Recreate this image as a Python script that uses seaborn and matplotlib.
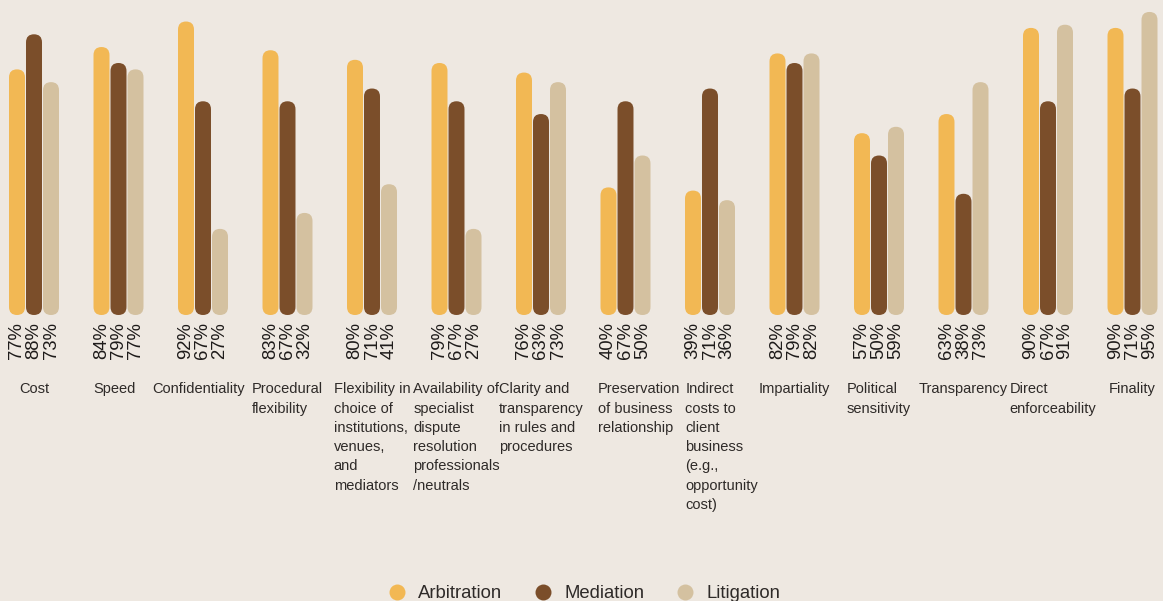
import matplotlib
matplotlib.use("Agg")
import matplotlib.pyplot as plt
import matplotlib.transforms as mtransforms
from matplotlib.patches import FancyBboxPatch
from matplotlib.lines import Line2D
import seaborn as sns
import pandas as pd

# Survey categories (line breaks as they are set under each group)
categories = [
    "Cost",
    "Speed",
    "Confidentiality",
    "Procedural\nflexibility",
    "Flexibility in\nchoice of\ninstitutions,\nvenues,\nand\nmediators",
    "Availability of\nspecialist\ndispute\nresolution\nprofessionals\n/neutrals",
    "Clarity and\ntransparency\nin rules and\nprocedures",
    "Preservation\nof business\nrelationship",
    "Indirect\ncosts to\nclient\nbusiness\n(e.g.,\nopportunity\ncost)",
    "Impartiality",
    "Political\nsensitivity",
    "Transparency",
    "Direct\nenforceability",
    "Finality",
]

series_names = ["Arbitration", "Mediation", "Litigation"]
arbitration = [77, 84, 92, 83, 80, 79, 76, 40, 39, 82, 57, 63, 90, 90]
mediation = [88, 79, 67, 67, 71, 67, 63, 67, 71, 79, 50, 38, 67, 71]
litigation = [73, 77, 27, 32, 41, 27, 73, 50, 36, 82, 59, 73, 91, 95]

colors = {"Arbitration": "#F2B854", "Mediation": "#7B4E2A", "Litigation": "#D4C1A0"}
bg = "#EEE8E1"
text_color = "#2E2A28"

rows = []
for name, vals in zip(series_names, [arbitration, mediation, litigation]):
    for cat, v in zip(categories, vals):
        rows.append({"category": cat, "series": name, "value": v})
df = pd.DataFrame(rows)

sns.set_theme(style="white")
plt.rcParams["font.family"] = ["Liberation Sans", "DejaVu Sans"]

W, H = 1163, 601
fig = plt.figure(figsize=(W / 100, H / 100), dpi=100, facecolor=bg)

base_px = 315        # pixel row of the bar baseline
group_px = 84.5      # spacing between groups
first_px = 34        # centre of the first group
px_per_pct = 3.19

ax = fig.add_axes([0, (H - base_px) / H, 1, base_px / H])
ax.set_facecolor(bg)

sns.barplot(
    data=df, x="category", y="value", hue="series",
    order=categories, hue_order=series_names,
    palette=colors, width=0.6036, gap=0.06,
    saturation=1, legend=False, ax=ax,
)

ax.set_xlim(-first_px / group_px, (W - first_px) / group_px)
ax.set_ylim(0, base_px / px_per_pct)
for s in ax.spines.values():
    s.set_visible(False)
ax.set_yticks([])
ax.set_xticks([])
ax.set_xlabel("")
ax.set_ylabel("")

# Replace the square bars with pill-shaped bars of the same extent
aspect = group_px / px_per_pct
bars = list(ax.patches)
for bar in bars:
    x, y = bar.get_x(), bar.get_y()
    w, h = bar.get_width(), bar.get_height()
    pill = FancyBboxPatch(
        (x, y), w, h,
        boxstyle=f"round,pad=0,rounding_size={w / 2}",
        mutation_aspect=aspect,
        facecolor=bar.get_facecolor(), edgecolor="none",
        clip_on=False, zorder=2,
    )
    ax.add_patch(pill)
    # value label under the bar, reading upwards
    ax.annotate(
        f"{int(round(h))}%", xy=(x + w / 2, 0), xytext=(0, -5),
        textcoords="offset points", rotation=90,
        ha="center", va="top", fontsize=13.3, color="#1E1B1A",
        annotation_clip=False,
    )
    bar.remove()

# Category labels under each group; a few blocks get a small sideways nudge (points)
nudges = {1: -3, 2: -3.5, 7: 9.5, 8: 8.5, 12: 3.5}
for i, cat in enumerate(categories):
    offset = mtransforms.ScaledTranslation(nudges.get(i, 0) / 72, -48.5 / 72,
                                           fig.dpi_scale_trans)
    ax.text(i, 0, cat, transform=ax.get_xaxis_transform() + offset,
            ha="center", va="top", multialignment="left",
            fontsize=10.5, color=text_color, linespacing=1.48, clip_on=False)

handles = [
    Line2D([0], [0], marker="o", linestyle="none", markersize=11.5,
           markerfacecolor=colors[n], markeredgecolor="none", label=n)
    for n in series_names
]
fig.legend(
    handles=handles, loc="center", bbox_to_anchor=(0.503, 1 - 594 / H),
    ncol=3, frameon=False, fontsize=13.3, handlelength=0.8,
    handletextpad=0.75, columnspacing=1.8, labelcolor=text_color,
)

fig.savefig("out.png", dpi=100, facecolor=bg)
